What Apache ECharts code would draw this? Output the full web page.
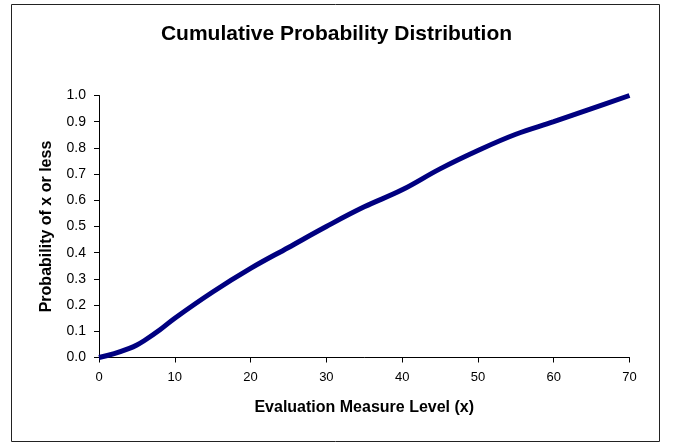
<!DOCTYPE html>
<html><head><meta charset="utf-8">
<script src="https://cdn.jsdelivr.net/npm/echarts@6/dist/echarts.min.js"></script>
<style>html,body{margin:0;padding:0;background:#fff}#c{width:673px;height:443px}</style>
</head><body><div id="c"></div>
<script>
var xValues = [0, 2, 4, 5, 6, 8, 10, 15, 20, 25, 30, 35, 40, 45, 50, 55, 60, 65, 70];
var probValues = [0.0, 0.015, 0.035, 0.048, 0.065, 0.105, 0.15, 0.25, 0.34, 0.42, 0.50, 0.575, 0.64, 0.72, 0.79, 0.852, 0.90, 0.95, 1.0];
var titleText = 'Cumulative Probability Distribution';
var xName = 'Evaluation Measure Level (x)';
var yName = 'Probability of x or less';

var chart = echarts.init(document.getElementById('c'), null, {renderer: 'canvas'});
var font = 'Liberation Sans, Arial, sans-serif';
chart.setOption({
  animation: false,
  backgroundColor: '#fff',
  title: {text: titleText, left: 'center', top: 19, textStyle: {fontFamily: font, fontSize: 21, fontWeight: 'bold', color: '#000'}},
  graphic: [{type: 'rect', shape: {x: 11.5, y: 4.5, width: 648, height: 437}, style: {fill: 'none', stroke: '#222', lineWidth: 1}, silent: true}],
  grid: {left: 99, right: 43.5, top: 95.5, bottom: 85.5},
  xAxis: {
    type: 'value', min: 0, max: 70, interval: 10,
    name: xName, nameLocation: 'middle', nameGap: 42,
    nameTextStyle: {fontFamily: font, fontSize: 16, fontWeight: 'bold', color: '#000'},
    axisLine: {lineStyle: {color: '#000', width: 1}},
    axisTick: {show: true, length: 5, lineStyle: {color: '#000'}},
    axisLabel: {fontFamily: font, fontSize: 13, color: '#000', margin: 13},
    splitLine: {show: false}
  },
  yAxis: {
    type: 'value', min: 0, max: 1, interval: 0.1,
    name: yName, nameLocation: 'middle', nameGap: 44,
    nameTextStyle: {fontFamily: font, fontSize: 16, fontWeight: 'bold', color: '#000'},
    axisLine: {show: true, lineStyle: {color: '#000', width: 1}},
    axisTick: {show: true, length: 5, lineStyle: {color: '#000'}},
    axisLabel: {fontFamily: font, fontSize: 14, color: '#000', margin: 13, formatter: function(v){return v.toFixed(1);}},
    splitLine: {show: false}
  },
  series: [{
    type: 'line', smooth: 0.4, showSymbol: false,
    data: xValues.map(function(x, i){return [x, probValues[i]];}),
    lineStyle: {color: '#000080', width: 5}
  }]
});
</script></body></html>
